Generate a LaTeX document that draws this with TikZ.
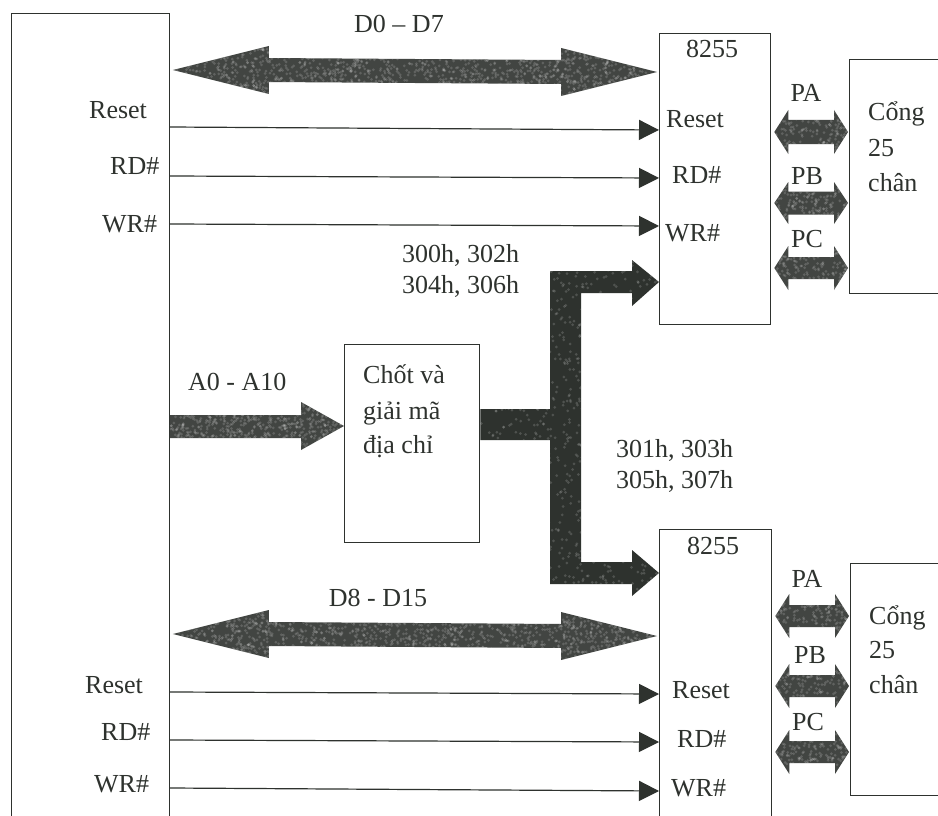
\documentclass[tikz,border=0pt]{standalone}
\usepackage{fontspec}
\setmainfont{Liberation Serif}
\usetikzlibrary{arrows.meta,calc}
\definecolor{ink}{HTML}{2E322E}
\definecolor{busc}{HTML}{424542}
\definecolor{treec}{HTML}{2E322E}
\tikzset{
  x=1pt,y=-1pt,
  blockbox/.style={draw=ink,line width=1.3pt,inner sep=0pt,anchor=north west},
  lbl/.style={text=ink,inner sep=0pt,anchor=base,font=\fontsize{26}{30}\selectfont},
  lbll/.style={lbl,anchor=base west},
  sig/.style={draw=ink,line width=1.2pt,-{Triangle[width=20pt,length=20pt,fill=ink]}}
}
% mottled fill: path, colour, x1, y1, x2, y2, number of specks
\newcommand\mottle[7]{%
  \fill[#2] #1;
  \begin{scope}
    \clip #1;
    \foreach \i in {1,...,#7}{%
      \pgfmathsetmacro\spx{#3+rnd*(#5-#3)}%
      \pgfmathsetmacro\spy{#4+rnd*(#6-#4)}%
      \fill[white,opacity=.16] (\spx,\spy) circle[radius=1.5];
    }
  \end{scope}}
% double-headed bus between two named points
\newcommand\dblbus[7]{%
  \mottle{(#1) -- ($(#1)+(#3,-#4)$) -- ($(#1)+(#3,-#5)$) -- ($(#2)+(-#3,-#5)$) -- ($(#2)+(-#3,-#4)$) -- (#2) -- ($(#2)+(-#3,#4)$) -- ($(#2)+(-#3,#5)$) -- ($(#1)+(#3,#5)$) -- ($(#1)+(#3,#4)$) -- cycle}{busc}#6{#7}}
\begin{document}
\begin{tikzpicture}
\pgfmathsetseed{4711}
\useasboundingbox (0,0) rectangle (938,816);
\clip (0,0) rectangle (938,816);
\fill[white] (0,0) rectangle (938,816);
% blocks
\node[blockbox,minimum width=158pt,minimum height=840pt] (cpu) at (10.5,13) {};
\node[blockbox,minimum width=111pt,minimum height=291pt] (chipa) at (659,33) {};
\node[blockbox,minimum width=112pt,minimum height=330pt] (chipb) at (659,529) {};
\node[blockbox,minimum width=135pt,minimum height=198pt] (dec) at (344,344) {};
\node[blockbox,minimum width=130pt,minimum height=234pt] (porta) at (849,59) {};
\node[blockbox,minimum width=130pt,minimum height=232pt] (portb) at (850,563) {};
% bus end points
\coordinate (da1) at ($(cpu.east |- 0,70)+(3,0)$);
\coordinate (da2) at ($(chipa.west |- 0,72)+(-2,0)$);
\coordinate (db1) at ($(cpu.east |- 0,634)+(3,0)$);
\coordinate (db2) at ($(chipb.west |- 0,636)+(-2,0)$);
% wide data buses
\dblbus{da1}{da2}{96}{24}{12}{{172}{46}{657}{96}}{1700}
\dblbus{db1}{db2}{96}{24}{12}{{172}{610}{657}{660}}{1700}
% control lines
\draw[sig] (cpu.east |- 0,127) -- (chipa.west |- 0,130);
\draw[sig] (cpu.east |- 0,176) -- (chipa.west |- 0,178);
\draw[sig] (cpu.east |- 0,224) -- (chipa.west |- 0,226);
\draw[sig] (cpu.east |- 0,692) -- (chipb.west |- 0,694);
\draw[sig] (cpu.east |- 0,740) -- (chipb.west |- 0,742);
\draw[sig] (cpu.east |- 0,788) -- (chipb.west |- 0,791);
% address bus into the decoder
\mottle{(cpu.east |- 0,415) -- (301,415) -- (301,402) -- (dec.west |- 0,426) -- (301,450) -- (301,438) -- (cpu.east |- 0,438) -- cycle}{busc}{170}{402}{344}{450}{700}
% decoder outputs to both chips
\mottle{(dec.east |- 0,409) -- (550,409) -- (550,271) -- (632,271) -- (632,260) -- (chipa.west |- 0,282) -- (632,306) -- (632,293) -- (581,293) -- (581,562) -- (632,562) -- (632,550) -- (chipb.west |- 0,573) -- (632,596) -- (632,584) -- (550,584) -- (550,440) -- (dec.east |- 0,440) -- cycle}{treec}{479}{260}{659}{597}{1100}
% port buses
\coordinate (pa1l) at ($(chipa.east |- 0,132)+(3,0)$); \coordinate (pa1r) at ($(porta.west |- 0,132)+(-1,0)$);
\coordinate (pb1l) at ($(chipa.east |- 0,203)+(3,0)$); \coordinate (pb1r) at ($(porta.west |- 0,203)+(-1,0)$);
\coordinate (pc1l) at ($(chipa.east |- 0,268)+(3,0)$); \coordinate (pc1r) at ($(porta.west |- 0,268)+(-1,0)$);
\coordinate (pa2l) at ($(chipb.east |- 0,616)+(3,0)$); \coordinate (pa2r) at ($(portb.west |- 0,616)+(-1,0)$);
\coordinate (pb2l) at ($(chipb.east |- 0,686)+(3,0)$); \coordinate (pb2r) at ($(portb.west |- 0,686)+(-1,0)$);
\coordinate (pc2l) at ($(chipb.east |- 0,752)+(3,0)$); \coordinate (pc2r) at ($(portb.west |- 0,752)+(-1,0)$);
\dblbus{pa1l}{pa1r}{14}{22}{12}{{772}{110}{849}{155}}{220}
\dblbus{pb1l}{pb1r}{14}{21}{11.5}{{772}{182}{849}{225}}{220}
\dblbus{pc1l}{pc1r}{14}{22}{11}{{772}{246}{849}{291}}{220}
\dblbus{pa2l}{pa2r}{14}{22}{11}{{772}{594}{850}{638}}{220}
\dblbus{pb2l}{pb2r}{14}{22}{11}{{772}{664}{850}{709}}{220}
\dblbus{pc2l}{pc2r}{14}{22}{11}{{772}{730}{850}{774}}{220}
% labels: left block
\node[lbll] (l1) at (89,118.5) {Reset};
\node[lbll] (l2) at (110,174) {RD\#};
\node[lbll] (l3) at (102,232) {WR\#};
\node[lbll] (l4) at (85,693) {Reset};
\node[lbll] (l5) at (101,740) {RD\#};
\node[lbll] (l6) at (94,792) {WR\#};
% labels: bus names
\node[lbl] (d0) at (399,33) {D0 – D7};
\node[lbl] (d8) at (378,606) {D8 - D15};
\node[lbll] (a0) at (188,390) {A0 - A10};
\node[lbll] (h1) at (402,262) {300h, 302h};
\node[lbll] (h2) at (402,293) {304h, 306h};
\node[lbll] (h3) at (616,457) {301h, 303h};
\node[lbll] (h4) at (616,488) {305h, 307h};
% labels: decoder
\node[lbll] (c1) at (363,383) {Chốt và};
\node[lbll] (c2) at (363,419) {giải mã};
\node[lbll] (c3) at (363,453) {địa chỉ};
% labels: chip A
\node[lbl] (n1) at (712,57.5) {8255};
\node[lbll] (r1) at (666,128) {Reset};
\node[lbll] (r2) at (672,183) {RD\#};
\node[lbll] (r3) at (665,241) {WR\#};
\node[lbl] (pa1) at (806,102) {PA};
\node[lbl] (pb1) at (807,184) {PB};
\node[lbl] (pc1) at (807,247) {PC};
\node[lbll] (g1) at (868,121) {Cổng};
\node[lbll] (g2) at (868,156) {25};
\node[lbll] (g3) at (868,191) {chân};
% labels: chip B
\node[lbl] (n2) at (713,554) {8255};
\node[lbll] (s1) at (672,698) {Reset};
\node[lbll] (s2) at (677,747) {RD\#};
\node[lbll] (s3) at (671,796) {WR\#};
\node[lbl] (pa2) at (807,587) {PA};
\node[lbl] (pb2) at (810,663) {PB};
\node[lbl] (pc2) at (808,730) {PC};
\node[lbll] (k1) at (869,624) {Cổng};
\node[lbll] (k2) at (869,658) {25};
\node[lbll] (k3) at (869,693) {chân};
\end{tikzpicture}
\end{document}
